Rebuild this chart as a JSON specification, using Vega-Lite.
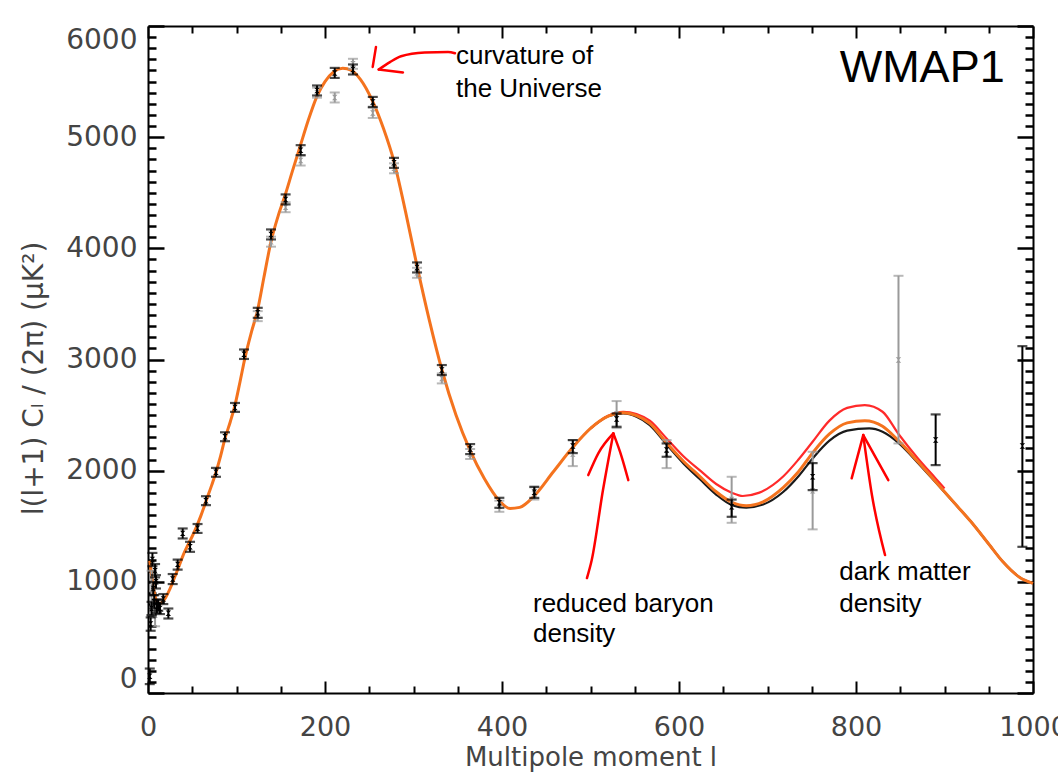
{
  "$schema": "https://vega.github.io/schema/vega-lite/v6.json",
  "width": 885,
  "height": 667,
  "autosize": {"type": "none"},
  "padding": {"left": 148, "top": 26, "right": 25, "bottom": 90},
  "background": "white",
  "config": {"view": {"stroke": null}, "font": "DejaVu Sans"},
  "resolve": {"axis": {"x": "independent", "y": "independent"}},
  "datasets": {
    "orange": [
      {"l":2,"C":1190},{"l":4,"C":1060},{"l":6,"C":950},{"l":8,"C":870},{"l":10,"C":825},{"l":13,"C":805},{"l":16,"C":815},{"l":20,"C":860},{"l":25,"C":940},{"l":30,"C":1040},{"l":35,"C":1140},{"l":40,"C":1245},{"l":45,"C":1330},{"l":50,"C":1410},{"l":55,"C":1500},{"l":60,"C":1600},{"l":66,"C":1736},{"l":72,"C":1870},{"l":77,"C":1990},{"l":82,"C":2130},{"l":87,"C":2290},{"l":93,"C":2440},{"l":98,"C":2580},{"l":104,"C":2800},{"l":110,"C":3030},{"l":117,"C":3250},{"l":124,"C":3450},{"l":131,"C":3740},{"l":139,"C":4060},{"l":147,"C":4290},{"l":155,"C":4480},{"l":163,"C":4690},{"l":172,"C":4920},{"l":181,"C":5150},{"l":191,"C":5370},{"l":200,"C":5500},{"l":210,"C":5590},{"l":220,"C":5620},{"l":230,"C":5600},{"l":240,"C":5520},{"l":254,"C":5320},{"l":266,"C":5080},{"l":278,"C":4780},{"l":291,"C":4330},{"l":304,"C":3840},{"l":318,"C":3350},{"l":332,"C":2910},{"l":348,"C":2500},{"l":364,"C":2180},{"l":380,"C":1930},{"l":397,"C":1730},{"l":409,"C":1660},{"l":420,"C":1670},{"l":436,"C":1770},{"l":458,"C":1990},{"l":480,"C":2210},{"l":500,"C":2380},{"l":520,"C":2490},{"l":537,"C":2521},{"l":552,"C":2495},{"l":567,"C":2425},{"l":586,"C":2250},{"l":605,"C":2085},{"l":624,"C":1945},{"l":642,"C":1810},{"l":660,"C":1715},{"l":676,"C":1685},{"l":695,"C":1720},{"l":718,"C":1850},{"l":735,"C":1990},{"l":751,"C":2160},{"l":770,"C":2330},{"l":790,"C":2430},{"l":810,"C":2450},{"l":830,"C":2400},{"l":848,"C":2270},{"l":870,"C":2080},{"l":890,"C":1900},{"l":910,"C":1720},{"l":930,"C":1540},{"l":950,"C":1340},{"l":966,"C":1180},{"l":985,"C":1040},{"l":1000,"C":986}
    ],
    "red": [
      {"l":500,"C":2380},{"l":520,"C":2495},{"l":537,"C":2530},{"l":552,"C":2510},{"l":567,"C":2450},{"l":586,"C":2290},{"l":605,"C":2130},{"l":624,"C":2000},{"l":642,"C":1880},{"l":660,"C":1800},{"l":672,"C":1772},{"l":690,"C":1800},{"l":718,"C":1950},{"l":735,"C":2100},{"l":751,"C":2260},{"l":770,"C":2450},{"l":790,"C":2565},{"l":810,"C":2590},{"l":830,"C":2530},{"l":848,"C":2330},{"l":870,"C":2110},{"l":890,"C":1930},{"l":900,"C":1840}
    ],
    "black": [
      {"l":500,"C":2380},{"l":520,"C":2490},{"l":537,"C":2515},{"l":552,"C":2485},{"l":567,"C":2410},{"l":586,"C":2235},{"l":605,"C":2065},{"l":624,"C":1920},{"l":642,"C":1785},{"l":660,"C":1690},{"l":676,"C":1668},{"l":695,"C":1695},{"l":718,"C":1810},{"l":735,"C":1950},{"l":751,"C":2110},{"l":770,"C":2270},{"l":790,"C":2360},{"l":815,"C":2380},{"l":830,"C":2350},{"l":848,"C":2250},{"l":870,"C":2070},{"l":890,"C":1895},{"l":910,"C":1718},{"l":930,"C":1540},{"l":950,"C":1340},{"l":966,"C":1180},{"l":985,"C":1040},{"l":1000,"C":986}
    ],
    "wmap": [
      {"l":2,"C":150,"lo":80,"hi":220},{"l":3,"C":620,"lo":560,"hi":680},{"l":4,"C":760,"lo":700,"hi":820},{"l":5,"C":1200,"lo":1140,"hi":1260},{"l":6,"C":940,"lo":880,"hi":1000},{"l":7,"C":820,"lo":760,"hi":880},{"l":8,"C":1100,"lo":1040,"hi":1160},{"l":9,"C":1000,"lo":940,"hi":1060},{"l":10,"C":780,"lo":720,"hi":840},{"l":11.6,"C":791,"lo":740,"hi":840},{"l":13.5,"C":760,"lo":710,"hi":810},{"l":17.3,"C":845,"lo":800,"hi":890},{"l":23,"C":717,"lo":670,"hi":760},{"l":27.9,"C":1025,"lo":980,"hi":1070},{"l":33.5,"C":1157,"lo":1110,"hi":1200},{"l":39.2,"C":1436,"lo":1390,"hi":1480},{"l":47.5,"C":1316,"lo":1270,"hi":1360},{"l":56,"C":1481,"lo":1440,"hi":1520},{"l":65.5,"C":1730,"lo":1690,"hi":1770},{"l":76.8,"C":1985,"lo":1945,"hi":2025},{"l":87,"C":2305,"lo":2265,"hi":2345},{"l":98.3,"C":2569,"lo":2529,"hi":2609},{"l":108.5,"C":3048,"lo":3005,"hi":3090},{"l":124,"C":3420,"lo":3375,"hi":3465},{"l":139,"C":4125,"lo":4080,"hi":4170},{"l":155.5,"C":4440,"lo":4395,"hi":4485},{"l":172.5,"C":4883,"lo":4838,"hi":4928},{"l":191,"C":5420,"lo":5375,"hi":5465},{"l":211,"C":5578,"lo":5533,"hi":5623},{"l":231.6,"C":5609,"lo":5564,"hi":5654},{"l":254,"C":5317,"lo":5272,"hi":5362},{"l":278,"C":4769,"lo":4724,"hi":4814},{"l":304,"C":3828,"lo":3783,"hi":3873},{"l":332,"C":2905,"lo":2860,"hi":2950},{"l":364,"C":2194,"lo":2149,"hi":2239},{"l":397,"C":1711,"lo":1666,"hi":1756},{"l":436.5,"C":1805,"lo":1755,"hi":1855},{"l":480,"C":2221,"lo":2158,"hi":2275},{"l":529.5,"C":2464,"lo":2395,"hi":2515},{"l":586,"C":2185,"lo":2125,"hi":2245},{"l":659.5,"C":1675,"lo":1585,"hi":1740},{"l":751,"C":1945,"lo":1825,"hi":2068},{"l":890,"C":2275,"lo":2050,"hi":2506},{"l":988,"C":2221,"lo":1315,"hi":3120}
    ],
    "gray": [
      {"l":4,"C":900,"lo":700,"hi":1100},{"l":8,"C":700,"lo":600,"hi":800},{"l":124,"C":3390,"lo":3345,"hi":3435},{"l":139,"C":4060,"lo":4015,"hi":4105},{"l":155.5,"C":4370,"lo":4325,"hi":4415},{"l":172.5,"C":4790,"lo":4745,"hi":4835},{"l":191,"C":5400,"lo":5355,"hi":5445},{"l":211,"C":5357,"lo":5312,"hi":5402},{"l":231.6,"C":5660,"lo":5615,"hi":5705},{"l":254,"C":5218,"lo":5173,"hi":5263},{"l":278,"C":4720,"lo":4675,"hi":4765},{"l":304,"C":3780,"lo":3735,"hi":3825},{"l":332,"C":2830,"lo":2785,"hi":2875},{"l":364,"C":2150,"lo":2105,"hi":2195},{"l":397,"C":1680,"lo":1630,"hi":1730},{"l":436.5,"C":1790,"lo":1740,"hi":1850},{"l":480,"C":2150,"lo":2041,"hi":2275},{"l":529.5,"C":2510,"lo":2383,"hi":2626},{"l":586,"C":2150,"lo":2023,"hi":2275},{"l":659.5,"C":1740,"lo":1531,"hi":1945},{"l":751,"C":1820,"lo":1472,"hi":2170},{"l":848,"C":2995,"lo":2245,"hi":3753}
    ],
    "arrows": [
      {"id":"a1","o":1,"l":260.7,"C":5609},{"id":"a1","o":2,"l":273.4,"C":5675},{"id":"a1","o":3,"l":285.9,"C":5728},{"id":"a1","o":4,"l":312.7,"C":5762},{"id":"a1","o":5,"l":339,"C":5767},{"id":"a1","o":6,"l":346.9,"C":5755},
      {"id":"a1h","o":1,"l":288.1,"C":5582},{"id":"a1h","o":2,"l":260.7,"C":5609},
      {"id":"a1m","o":1,"l":253.9,"C":5632},{"id":"a1m","o":2,"l":257.6,"C":5812},
      {"id":"a2","o":1,"l":525.8,"C":2335},{"id":"a2","o":2,"l":514.1,"C":1826},{"id":"a2","o":3,"l":501.4,"C":1196},{"id":"a2","o":4,"l":496,"C":1034},
      {"id":"a2l","o":1,"l":497.5,"C":1960},{"id":"a2l","o":2,"l":508.8,"C":2156},{"id":"a2l","o":3,"l":525.8,"C":2335},
      {"id":"a2r","o":1,"l":525.8,"C":2335},{"id":"a2r","o":2,"l":535.2,"C":2125},{"id":"a2r","o":3,"l":542.7,"C":1915},
      {"id":"a3","o":1,"l":808.2,"C":2320},{"id":"a3","o":2,"l":818,"C":1781},{"id":"a3","o":3,"l":832.8,"C":1241},
      {"id":"a3l","o":1,"l":795.1,"C":1931},{"id":"a3l","o":2,"l":808.2,"C":2320},
      {"id":"a3r","o":1,"l":808.2,"C":2320},{"id":"a3r","o":2,"l":836.5,"C":1915}
    ],
    "notes": [
      {"t":"curvature of","l":348,"C":5656},
      {"t":"the Universe","l":348,"C":5360},
      {"t":"reduced baryon","l":435,"C":728},
      {"t":"density","l":435,"C":459},
      {"t":"dark matter","l":781,"C":1016},
      {"t":"density","l":781,"C":731}
    ],
    "label": [
      {"t":"WMAP1","l":968,"C":5495}
    ]
  },
  "layer": [
    {
      "data": {"name": "black"},
      "mark": {"type": "line", "color": "#1a1a1a", "strokeWidth": 2.2, "interpolate": "monotone"},
      "encoding": {
        "x": {"field": "l", "type": "quantitative", "scale": {"domain": [0, 1000], "nice": false, "zero": false},
          "axis": {"orient": "bottom", "values": [0,200,400,600,800,1000], "format": "d", "ticks": false, "grid": false, "domain": true, "domainColor": "#000", "domainWidth": 2, "labelFlush": false, "labelFont": "DejaVu Sans", "labelFontSize": 27, "labelColor": "#444", "labelPadding": 21, "title": "Multipole  moment   l", "titleFont": "DejaVu Sans", "titleFontSize": 26, "titleFontWeight": "normal", "titleColor": "#444", "titleY": 64, "titleBaseline": "middle"}},
        "y": {"field": "C", "type": "quantitative", "scale": {"domain": [0, 6000], "nice": false, "zero": false},
          "axis": {"orient": "left", "values": [0,1000,2000,3000,4000,5000,6000], "format": "d", "ticks": false, "grid": false, "domain": true, "domainColor": "#000", "domainWidth": 2, "labelFlush": true, "labelFont": "DejaVu Sans", "labelFontSize": 28, "labelColor": "#444", "labelPadding": 11, "title": "l(l+1)   Cₗ   /   (2π)   (μK²)", "titleFont": "DejaVu Sans", "titleFontSize": 28, "titleFontWeight": "normal", "titleColor": "#444", "titleAngle": 270, "titleX": -114, "titleY": 352, "titleBaseline": "middle", "titleAlign": "center"}}
      }
    },
    {
      "data": {"name": "red"},
      "mark": {"type": "line", "color": "#ff2a2a", "strokeWidth": 2.2, "interpolate": "monotone"},
      "encoding": {
        "x": {"field": "l", "type": "quantitative", "scale": {"domain": [0, 1000], "nice": false, "zero": false},
          "axis": {"orient": "bottom", "values": [0,200,400,600,800,1000], "labels": false, "domain": false, "grid": false, "ticks": true, "tickSize": -12, "tickWidth": 2, "tickColor": "#000", "title": null}},
        "y": {"field": "C", "type": "quantitative", "scale": {"domain": [0, 6000], "nice": false, "zero": false},
          "axis": {"orient": "left", "values": [0,1000,2000,3000,4000,5000,6000], "labels": false, "domain": false, "grid": false, "ticks": true, "tickSize": -16, "tickWidth": 2.5, "tickColor": "#000", "title": null}}
      }
    },
    {
      "data": {"name": "orange"},
      "mark": {"type": "line", "color": "#f4731e", "strokeWidth": 3, "interpolate": "monotone"},
      "encoding": {
        "x": {"field": "l", "type": "quantitative", "scale": {"domain": [0, 1000], "nice": false, "zero": false},
          "axis": {"orient": "bottom", "values": [50,100,150,250,300,350,450,500,550,650,700,750,850,900,950], "labels": false, "domain": false, "grid": false, "ticks": true, "tickSize": -7, "tickWidth": 2, "tickColor": "#000", "title": null}},
        "y": {"field": "C", "type": "quantitative", "scale": {"domain": [0, 6000], "nice": false, "zero": false},
          "axis": {"orient": "left", "values": [100,200,300,400,500,600,700,800,900,1100,1200,1300,1400,1500,1600,1700,1800,1900,2100,2200,2300,2400,2500,2600,2700,2800,2900,3100,3200,3300,3400,3500,3600,3700,3800,3900,4100,4200,4300,4400,4500,4600,4700,4800,4900,5100,5200,5300,5400,5500,5600,5700,5800,5900], "labels": false, "domain": false, "grid": false, "ticks": true, "tickSize": -8, "tickWidth": 2.5, "tickColor": "#000", "title": null}}
      }
    },
    {
      "data": {"name": "gray"},
      "mark": {"type": "rule", "color": "#9a9a9a", "strokeWidth": 2},
      "encoding": {
        "x": {"field": "l", "type": "quantitative", "scale": {"domain": [0, 1000], "nice": false, "zero": false},
          "axis": {"orient": "top", "values": [0,200,400,600,800,1000], "labels": false, "domain": true, "domainColor": "#000", "domainWidth": 2, "grid": false, "ticks": true, "tickSize": -12, "tickWidth": 2, "tickColor": "#000", "title": null}},
        "y": {"field": "lo", "type": "quantitative", "scale": {"domain": [0, 6000], "nice": false, "zero": false},
          "axis": {"orient": "right", "values": [0,1000,2000,3000,4000,5000,6000], "labels": false, "domain": true, "domainColor": "#000", "domainWidth": 2, "grid": false, "ticks": true, "tickSize": -16, "tickWidth": 2.5, "tickColor": "#000", "title": null}},
        "y2": {"field": "hi"}
      }
    },
    {
      "data": {"name": "gray"},
      "transform": [{"fold": ["lo", "hi"], "as": ["k", "v"]}],
      "mark": {"type": "tick", "orient": "horizontal", "color": "#9a9a9a", "size": 10, "thickness": 2},
      "encoding": {
        "x": {"field": "l", "type": "quantitative", "scale": {"domain": [0, 1000], "nice": false, "zero": false},
          "axis": {"orient": "top", "values": [50,100,150,250,300,350,450,500,550,650,700,750,850,900,950], "labels": false, "domain": false, "grid": false, "ticks": true, "tickSize": -7, "tickWidth": 2, "tickColor": "#000", "title": null}},
        "y": {"field": "v", "type": "quantitative", "scale": {"domain": [0, 6000], "nice": false, "zero": false},
          "axis": {"orient": "right", "values": [100,200,300,400,500,600,700,800,900,1100,1200,1300,1400,1500,1600,1700,1800,1900,2100,2200,2300,2400,2500,2600,2700,2800,2900,3100,3200,3300,3400,3500,3600,3700,3800,3900,4100,4200,4300,4400,4500,4600,4700,4800,4900,5100,5200,5300,5400,5500,5600,5700,5800,5900], "labels": false, "domain": false, "grid": false, "ticks": true, "tickSize": -8, "tickWidth": 2.5, "tickColor": "#000", "title": null}}
      }
    },
    {
      "data": {"name": "gray"},
      "mark": {"type": "point", "filled": true, "color": "#9a9a9a", "opacity": 1, "size": 30, "shape": "M-1,-1L1,-1L-1,1L1,1Z"},
      "encoding": {
        "x": {"field": "l", "type": "quantitative", "scale": {"domain": [0, 1000], "nice": false, "zero": false}, "axis": null},
        "y": {"field": "C", "type": "quantitative", "scale": {"domain": [0, 6000], "nice": false, "zero": false}, "axis": null}
      }
    },
    {
      "data": {"name": "wmap"},
      "mark": {"type": "rule", "color": "#000", "strokeWidth": 2},
      "encoding": {
        "x": {"field": "l", "type": "quantitative", "scale": {"domain": [0, 1000], "nice": false, "zero": false}, "axis": null},
        "y": {"field": "lo", "type": "quantitative", "scale": {"domain": [0, 6000], "nice": false, "zero": false}, "axis": null},
        "y2": {"field": "hi"}
      }
    },
    {
      "data": {"name": "wmap"},
      "transform": [{"fold": ["lo", "hi"], "as": ["k", "v"]}],
      "mark": {"type": "tick", "orient": "horizontal", "color": "#000", "size": 10, "thickness": 2.2},
      "encoding": {
        "x": {"field": "l", "type": "quantitative", "scale": {"domain": [0, 1000], "nice": false, "zero": false}, "axis": null},
        "y": {"field": "v", "type": "quantitative", "scale": {"domain": [0, 6000], "nice": false, "zero": false}, "axis": null}
      }
    },
    {
      "data": {"name": "wmap"},
      "mark": {"type": "point", "filled": true, "color": "#000", "opacity": 1, "size": 30, "shape": "M-1,-1L1,-1L-1,1L1,1Z"},
      "encoding": {
        "x": {"field": "l", "type": "quantitative", "scale": {"domain": [0, 1000], "nice": false, "zero": false}, "axis": null},
        "y": {"field": "C", "type": "quantitative", "scale": {"domain": [0, 6000], "nice": false, "zero": false}, "axis": null}
      }
    },
    {
      "data": {"name": "arrows"},
      "mark": {"type": "line", "color": "#ff0000", "strokeWidth": 2.5, "strokeCap": "round", "strokeJoin": "round", "interpolate": "monotone"},
      "encoding": {
        "x": {"field": "l", "type": "quantitative", "scale": {"domain": [0, 1000], "nice": false, "zero": false}, "axis": null},
        "y": {"field": "C", "type": "quantitative", "scale": {"domain": [0, 6000], "nice": false, "zero": false}, "axis": null},
        "detail": {"field": "id"},
        "order": {"field": "o"}
      }
    },
    {
      "data": {"name": "notes"},
      "mark": {"type": "text", "align": "left", "baseline": "alphabetic", "font": "Liberation Sans", "fontSize": 26, "color": "#000"},
      "encoding": {
        "x": {"field": "l", "type": "quantitative", "scale": {"domain": [0, 1000], "nice": false, "zero": false}, "axis": null},
        "y": {"field": "C", "type": "quantitative", "scale": {"domain": [0, 6000], "nice": false, "zero": false}, "axis": null},
        "text": {"field": "t"}
      }
    },
    {
      "data": {"name": "label"},
      "mark": {"type": "text", "align": "right", "baseline": "alphabetic", "font": "Liberation Sans", "fontSize": 45, "color": "#000"},
      "encoding": {
        "x": {"field": "l", "type": "quantitative", "scale": {"domain": [0, 1000], "nice": false, "zero": false}, "axis": null},
        "y": {"field": "C", "type": "quantitative", "scale": {"domain": [0, 6000], "nice": false, "zero": false}, "axis": null},
        "text": {"field": "t"}
      }
    }
  ]
}
